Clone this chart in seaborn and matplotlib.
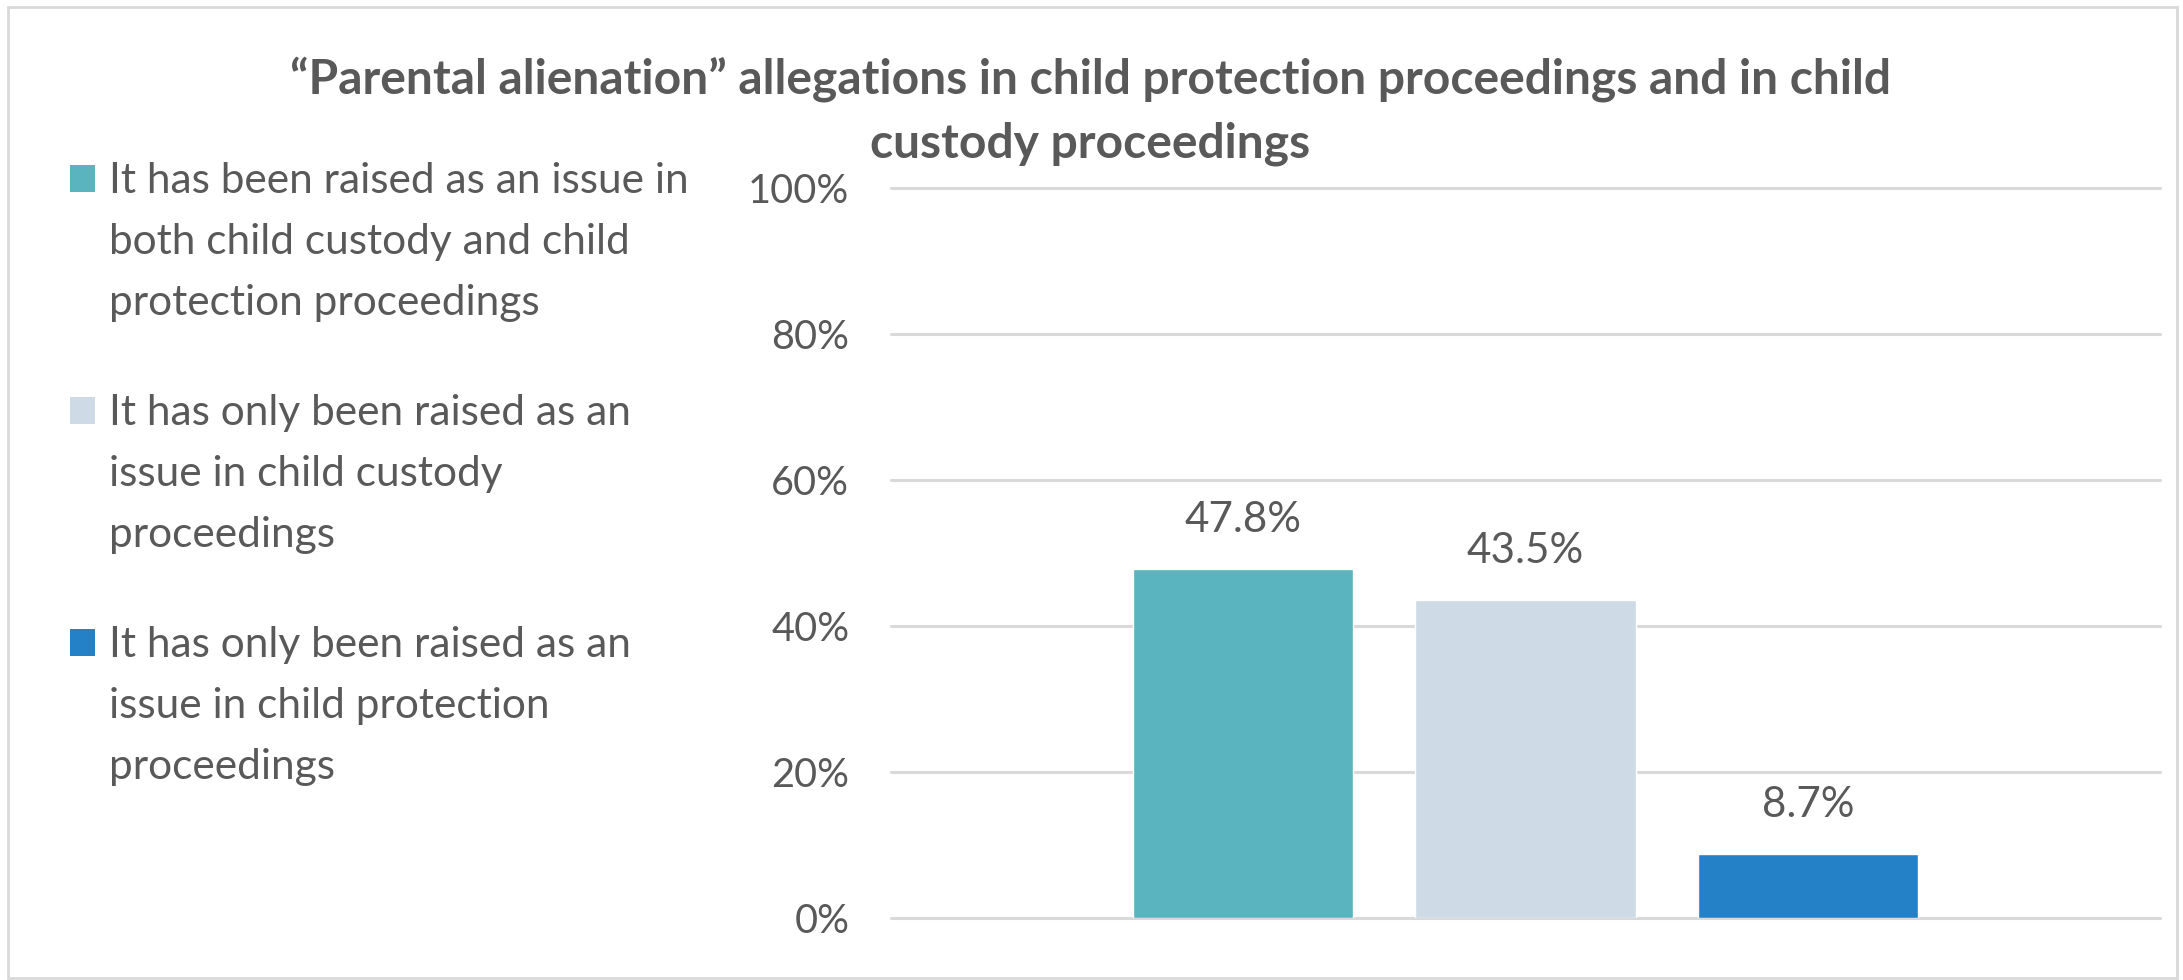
#!/usr/bin/env python3

import matplotlib
matplotlib.use('Agg')
import matplotlib.pyplot as plt
import seaborn as sns
import pandas as pd
from matplotlib import font_manager
from matplotlib.patches import Rectangle

# chart data
title_lines = ['\u201cParental alienation\u201d allegations in child protection proceedings and in child',
               'custody proceedings']
series = [
    'It has been raised as an issue in\nboth child custody and child\nprotection proceedings',
    'It has only been raised as an\nissue in child custody\nproceedings',
    'It has only been raised as an\nissue in child protection\nproceedings',
]
values = [47.8, 43.5, 8.7]
colors = ['#5AB4BF', '#CEDAE5', '#2581C7']
yticks = [0, 20, 40, 60, 80, 100]

W, H = 2183, 980
TEXT = '#595959'
GRID = '#D9D9D9'

sns.set_theme(style='white')
names = {f.name for f in font_manager.fontManager.ttflist}
family = 'Liberation Sans Narrow' if 'Liberation Sans Narrow' in names else 'Lato'
plt.rcParams['font.family'] = [family, 'DejaVu Sans']

fig = plt.figure(figsize=(W / 100, H / 100), dpi=100)
renderer = fig.canvas.get_renderer()


def fitted_size(s, target_px, **kw):
    """Font size that makes string s about target_px wide."""
    t = fig.text(0, 0, s, fontsize=20, **kw)
    w = t.get_window_extent(renderer).width
    t.remove()
    return 20 * target_px / w


def fy(px):
    return 1 - px / H


# plot area (pixel box of the reference)
ax = fig.add_axes([891 / W, fy(918), (2160 - 891) / W, (918 - 188) / H])

df = pd.DataFrame({'group': [''] * len(series), 'series': series, 'value': values})
sns.barplot(data=df, x='group', y='value', hue='series', hue_order=series,
            palette=colors, saturation=1, width=0.668, gap=0.22,
            legend=False, ax=ax)

ax.set_xlim(-0.5, 0.5)
ax.set_ylim(0, 100)
ax.set_yticks(yticks)
tick_size = fitted_size('100%', 101)
ax.set_yticklabels([f'{t}%' for t in yticks], fontsize=tick_size, color=TEXT)
ax.tick_params(axis='y', length=0, pad=30)
ax.set_xticks([])
ax.set_xlabel('')
ax.set_ylabel('')
for sp in ax.spines.values():
    sp.set_visible(False)
ax.grid(axis='y', color=GRID, linewidth=2.2)
ax.grid(axis='x', visible=False)
ax.set_axisbelow(True)
for gl in ax.get_ygridlines():
    gl.set_clip_on(False)

label_size = fitted_size('47.8%', 117)
for container, v in zip(ax.containers, values):
    ax.bar_label(container, labels=[f'{v}%'], padding=22,
                 fontsize=label_size, color=TEXT)

# title, two centred lines
title_size = fitted_size(title_lines[0], 1605, fontweight='bold')
for line, base in zip(title_lines, [93, 158]):
    fig.text(1090 / W, fy(base), line, ha='center', va='baseline',
             fontsize=title_size, fontweight='bold', color=TEXT)

# legend on the left
leg_size = fitted_size('It has been raised as an issue in', 582)
for lab, col, base in zip(series, colors, [193, 425, 657]):
    fig.add_artist(Rectangle((70 / W, fy(base - 1)), 25 / W, 27 / H,
                             transform=fig.transFigure, color=col, lw=0))
    for i, line in enumerate(lab.split('\n')):
        fig.text(109 / W, fy(base + 61 * i), line, va='baseline',
                 fontsize=leg_size, color=TEXT)

# light frame round the chart
fig.add_artist(Rectangle((8 / W, fy(978)), (2177 - 8) / W, (978 - 7) / H,
                         transform=fig.transFigure, fill=False,
                         edgecolor=GRID, linewidth=2))

fig.savefig('out.png', dpi=100, facecolor='white')
